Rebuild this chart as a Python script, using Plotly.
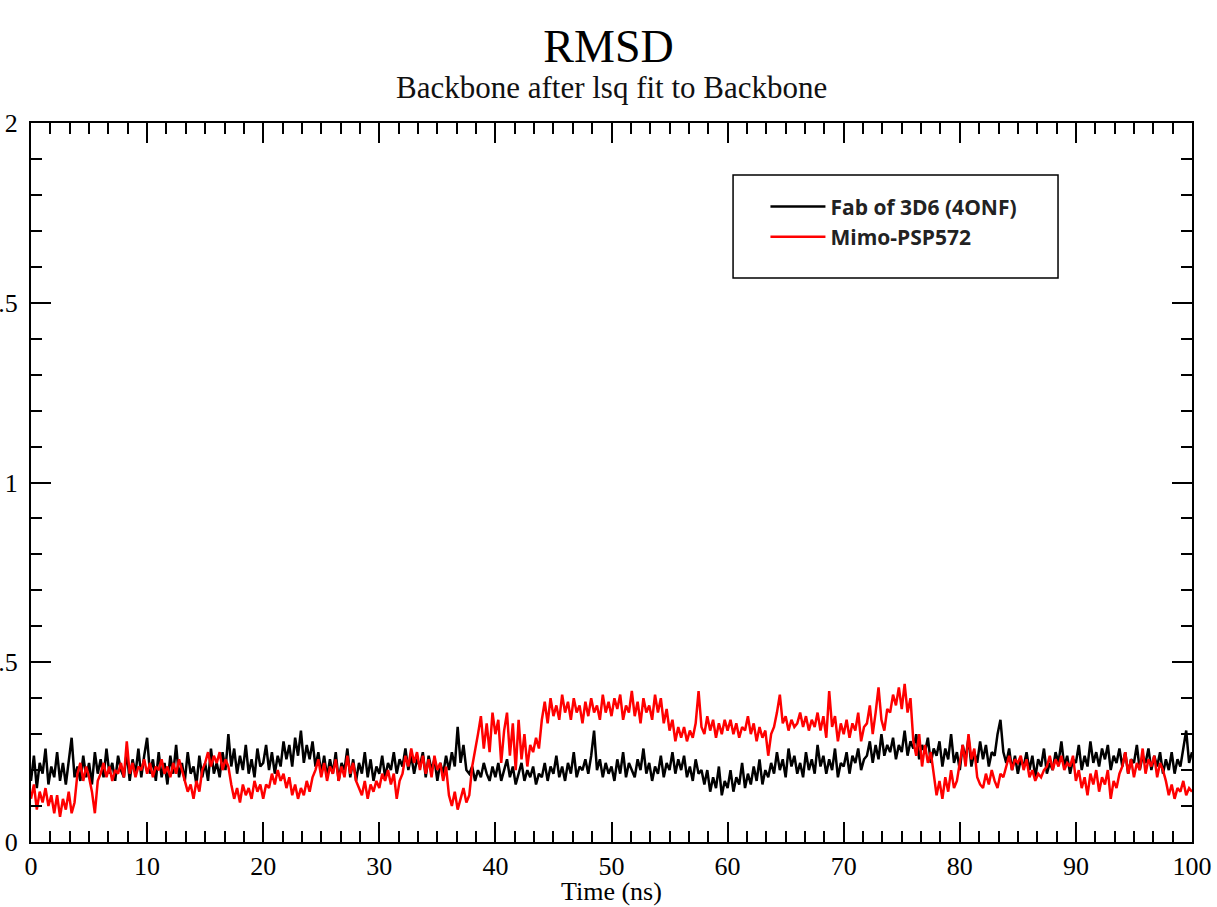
import plotly.graph_objects as go

# ---------------- data ----------------
time_step_ns = 0.25
n_points = 401
time_ns = [i * time_step_ns for i in range(n_points)]

fab_3d6_rmsd = [
    0.17,0.24,0.15,0.22,0.19,0.26,0.16,0.21,
    0.18,0.25,0.17,0.22,0.16,0.23,0.29,0.18,
    0.21,0.17,0.24,0.18,0.22,0.16,0.25,0.19,
    0.23,0.18,0.26,0.19,0.22,0.17,0.24,0.20,
    0.18,0.25,0.17,0.23,0.19,0.26,0.18,0.24,
    0.29,0.19,0.23,0.17,0.25,0.18,0.22,0.16,
    0.24,0.19,0.27,0.18,0.22,0.17,0.25,0.19,
    0.21,0.16,0.24,0.18,0.22,0.17,0.26,0.19,
    0.22,0.18,0.25,0.20,0.30,0.21,0.26,0.19,
    0.24,0.20,0.27,0.19,0.23,0.18,0.26,0.21,
    0.22,0.27,0.20,0.25,0.19,0.24,0.21,0.28,
    0.23,0.27,0.21,0.29,0.24,0.31,0.22,0.27,
    0.23,0.28,0.21,0.25,0.19,0.24,0.18,0.23,
    0.19,0.25,0.17,0.22,0.20,0.26,0.18,0.23,
    0.17,0.22,0.19,0.25,0.18,0.23,0.17,0.21,
    0.19,0.24,0.18,0.22,0.20,0.25,0.19,0.23,
    0.21,0.26,0.20,0.24,0.19,0.23,0.21,0.25,
    0.18,0.24,0.20,0.23,0.17,0.22,0.19,0.24,
    0.20,0.25,0.21,0.32,0.22,0.27,0.20,0.19,
    0.21,0.17,0.20,0.18,0.22,0.19,0.17,0.21,
    0.18,0.22,0.17,0.20,0.23,0.18,0.21,0.16,
    0.19,0.22,0.17,0.20,0.18,0.21,0.16,0.19,
    0.18,0.22,0.17,0.21,0.19,0.24,0.18,0.21,
    0.17,0.22,0.19,0.25,0.18,0.21,0.20,0.23,
    0.19,0.24,0.31,0.20,0.23,0.18,0.22,0.19,
    0.21,0.17,0.23,0.19,0.25,0.18,0.22,0.20,
    0.18,0.23,0.20,0.26,0.19,0.22,0.17,0.21,
    0.19,0.24,0.18,0.22,0.20,0.25,0.19,0.23,
    0.20,0.24,0.18,0.21,0.17,0.23,0.19,0.20,
    0.16,0.20,0.14,0.18,0.15,0.21,0.13,0.17,
    0.15,0.20,0.14,0.18,0.16,0.22,0.15,0.19,
    0.16,0.21,0.17,0.23,0.16,0.20,0.18,0.22,
    0.19,0.25,0.20,0.23,0.18,0.26,0.21,0.24,
    0.19,0.22,0.18,0.25,0.20,0.23,0.19,0.27,
    0.21,0.24,0.19,0.23,0.20,0.26,0.18,0.22,
    0.21,0.25,0.19,0.24,0.22,0.26,0.20,0.23,
    0.24,0.28,0.22,0.27,0.23,0.30,0.24,0.27,
    0.25,0.29,0.23,0.27,0.25,0.31,0.24,0.28,
    0.26,0.30,0.23,0.27,0.25,0.29,0.22,0.26,
    0.24,0.28,0.21,0.26,0.23,0.30,0.22,0.25,
    0.20,0.27,0.23,0.29,0.21,0.25,0.22,0.28,
    0.23,0.27,0.21,0.25,0.24,0.30,0.34,0.25,
    0.22,0.26,0.20,0.24,0.19,0.23,0.21,0.25,
    0.20,0.24,0.18,0.23,0.21,0.26,0.19,0.22,
    0.20,0.25,0.22,0.28,0.21,0.24,0.19,0.23,
    0.22,0.27,0.20,0.24,0.21,0.28,0.22,0.25,
    0.21,0.26,0.23,0.27,0.20,0.24,0.22,0.26,
    0.21,0.25,0.19,0.23,0.22,0.27,0.20,0.24,
    0.22,0.26,0.20,0.24,0.21,0.25,0.19,0.23,
    0.20,0.25,0.19,0.23,0.21,0.26,0.31,0.22,
    0.25,
]

mimo_psp572_rmsd = [
    0.12,0.16,0.09,0.14,0.11,0.15,0.10,0.13,
    0.08,0.13,0.07,0.12,0.09,0.14,0.08,0.11,
    0.19,0.22,0.17,0.21,0.18,0.14,0.08,0.17,
    0.19,0.22,0.18,0.21,0.17,0.20,0.19,0.22,
    0.18,0.28,0.19,0.22,0.18,0.21,0.20,0.23,
    0.19,0.22,0.18,0.21,0.20,0.23,0.19,0.21,
    0.18,0.22,0.19,0.23,0.20,0.17,0.14,0.16,
    0.12,0.17,0.14,0.20,0.22,0.25,0.21,0.24,
    0.22,0.25,0.20,0.23,0.21,0.16,0.12,0.15,
    0.11,0.16,0.13,0.15,0.12,0.17,0.14,0.16,
    0.12,0.16,0.15,0.19,0.16,0.20,0.17,0.19,
    0.15,0.18,0.13,0.16,0.12,0.15,0.13,0.17,
    0.14,0.18,0.20,0.23,0.18,0.22,0.17,0.21,
    0.19,0.23,0.17,0.21,0.18,0.24,0.19,0.22,
    0.17,0.15,0.13,0.17,0.12,0.16,0.14,0.17,
    0.15,0.19,0.17,0.20,0.16,0.19,0.12,0.17,
    0.19,0.24,0.21,0.26,0.22,0.25,0.20,0.24,
    0.19,0.23,0.18,0.24,0.20,0.22,0.17,0.21,
    0.13,0.10,0.14,0.09,0.12,0.15,0.11,0.13,
    0.21,0.25,0.30,0.35,0.26,0.33,0.25,0.36,
    0.30,0.34,0.22,0.31,0.36,0.24,0.33,0.20,
    0.34,0.23,0.30,0.21,0.27,0.25,0.29,0.26,
    0.34,0.39,0.33,0.40,0.35,0.38,0.34,0.41,
    0.36,0.39,0.34,0.40,0.36,0.38,0.33,0.39,
    0.35,0.40,0.36,0.38,0.34,0.41,0.36,0.39,
    0.35,0.40,0.37,0.41,0.34,0.38,0.36,0.42,
    0.35,0.39,0.33,0.40,0.36,0.38,0.34,0.41,
    0.36,0.40,0.33,0.37,0.31,0.34,0.28,0.32,
    0.29,0.32,0.28,0.31,0.29,0.33,0.42,0.32,
    0.30,0.35,0.31,0.34,0.29,0.33,0.30,0.34,
    0.31,0.34,0.30,0.33,0.29,0.32,0.31,0.35,
    0.30,0.33,0.28,0.32,0.29,0.31,0.24,0.30,
    0.32,0.36,0.41,0.33,0.35,0.31,0.34,0.32,
    0.33,0.36,0.32,0.35,0.31,0.34,0.32,0.36,
    0.31,0.35,0.29,0.42,0.32,0.35,0.28,0.33,
    0.30,0.34,0.29,0.33,0.31,0.36,0.28,0.32,
    0.33,0.38,0.30,0.36,0.43,0.34,0.31,0.37,
    0.36,0.41,0.38,0.43,0.37,0.44,0.36,0.40,
    0.28,0.24,0.30,0.21,0.27,0.22,0.25,0.19,
    0.13,0.17,0.12,0.18,0.14,0.20,0.15,0.17,
    0.22,0.27,0.21,0.30,0.23,0.26,0.18,0.16,
    0.15,0.19,0.16,0.20,0.17,0.15,0.19,0.18,
    0.21,0.24,0.20,0.23,0.22,0.24,0.20,0.23,
    0.18,0.20,0.17,0.19,0.18,0.20,0.21,0.24,
    0.20,0.23,0.21,0.24,0.20,0.22,0.21,0.24,
    0.17,0.20,0.15,0.18,0.13,0.19,0.16,0.20,
    0.14,0.18,0.16,0.20,0.12,0.17,0.15,0.19,
    0.21,0.25,0.19,0.23,0.18,0.22,0.20,0.26,
    0.19,0.23,0.21,0.24,0.18,0.22,0.20,0.17,
    0.13,0.16,0.12,0.15,0.14,0.17,0.13,0.15,
    0.14,
]

series_names = ["Fab of 3D6 (4ONF)", "Mimo-PSP572"]
title_text = "RMSD"
subtitle_text = "Backbone after lsq fit to Backbone"
x_title_text = "Time (ns)"
x_tick_vals = [0, 10, 20, 30, 40, 50, 60, 70, 80, 90, 100]
x_tick_text = ["0", "10", "20", "30", "40", "50", "60", "70", "80", "90", "100"]
y_tick_vals = [0, 0.5, 1, 1.5, 2]
y_tick_text = ["0", "0.5", "1", "1.5", "2"]

# ---------------- figure ----------------
SERIF = "Liberation Serif"

fig = go.Figure()
fig.add_trace(go.Scatter(x=time_ns, y=fab_3d6_rmsd, mode="lines", name=series_names[0],
                         line=dict(color="#000000", width=2.5)))
fig.add_trace(go.Scatter(x=time_ns, y=mimo_psp572_rmsd, mode="lines", name=series_names[1],
                         line=dict(color="#ff0000", width=2.5)))

axis_common = dict(
    showline=True, linecolor="black", linewidth=2, mirror="allticks",
    ticks="inside", tickcolor="black", tickwidth=2,
    showgrid=False, zeroline=False,
    tickfont=dict(family=SERIF, size=26, color="black"),
    automargin=False,
)

fig.update_xaxes(
    range=[0, 100], tickvals=x_tick_vals, ticktext=x_tick_text, ticklen=20,
    minor=dict(dtick=10 / 6, tick0=0, ticks="inside", ticklen=11, tickwidth=2, tickcolor="black", showgrid=False),
    **axis_common,
)
fig.update_yaxes(
    range=[0, 2], tickvals=y_tick_vals, ticktext=y_tick_text, ticklen=20,
    minor=dict(dtick=0.1, tick0=0, ticks="inside", ticklen=11, tickwidth=2, tickcolor="black", showgrid=False),
    ticklabelstandoff=6,
    **axis_common,
)

# legend frame
fig.add_shape(type="rect", xref="paper", yref="paper",
              x0=0.6047, x1=0.8846, y0=0.7844, y1=0.9277,
              line=dict(color="black", width=1.5), fillcolor="rgba(0,0,0,0)", layer="above")

# subtitle
fig.add_annotation(text=subtitle_text, xref="paper", yref="paper", x=0.5, y=1.0487,
                   xanchor="center", yanchor="middle", showarrow=False,
                   font=dict(family=SERIF, size=31, color="#111111"))

# x-axis title
fig.add_annotation(text=x_title_text, xref="paper", yref="paper", x=0.5, y=-0.0682,
                   xanchor="center", yanchor="middle", showarrow=False,
                   font=dict(family=SERIF, size=26, color="black"))

fig.update_layout(
    width=1217, height=907,
    margin=dict(l=31, r=25, t=123, b=65),
    paper_bgcolor="white", plot_bgcolor="white",
    title=dict(
        text=title_text,
        x=0.5, xanchor="center", y=0.949, yanchor="middle",
        font=dict(family=SERIF, size=46, color="black"),
    ),
    showlegend=True,
    legend=dict(
        x=0.6326, xanchor="left", y=0.912, yanchor="top",
        bgcolor="rgba(0,0,0,0)", borderwidth=0,
        font=dict(family="Open Sans", size=21, color="#222222", weight="bold"),
        itemwidth=55,
        tracegroupgap=0,
    ),
)

fig.write_html("out.html", config={"displayModeBar": False},
               post_script="document.body.style.margin='0px';document.body.style.overflow='hidden';")
